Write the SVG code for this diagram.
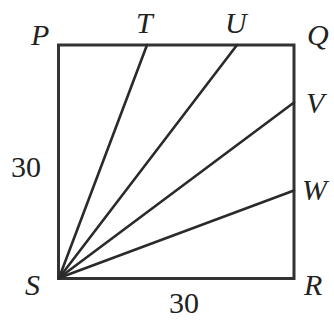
<svg xmlns="http://www.w3.org/2000/svg" width="334" height="320" viewBox="0 0 334 320">
<style>
.edge{stroke:#2a2a2a;stroke-width:2.6;fill:none;stroke-linecap:round}
.sq{stroke:#333;stroke-width:3;fill:none;stroke-linejoin:miter}
.lbl{font-family:"Liberation Serif","Times New Roman",serif;font-style:italic;font-size:30px;fill:#222}
.num{font-family:"Liberation Serif","Times New Roman",serif;font-size:30px;fill:#222}
</style>
<rect width="334" height="320" fill="#fff"/>
<g id="square">
<rect class="sq" x="58.5" y="45" width="235.5" height="233.5"/>
</g>
<g id="connectors">
<line class="edge" x1="59" y1="278" x2="147" y2="45"/>
<line class="edge" x1="59" y1="278" x2="237" y2="45"/>
<line class="edge" x1="59" y1="278" x2="294" y2="102.5"/>
<line class="edge" x1="59" y1="278" x2="294" y2="190.5"/>
</g>
<g id="P"><text class="lbl" x="31" y="45">P</text></g>
<g id="T"><text class="lbl" x="136" y="33">T</text></g>
<g id="U"><text class="lbl" x="225" y="33">U</text></g>
<g id="Q"><text class="lbl" x="307" y="45">Q</text></g>
<g id="V"><text class="lbl" x="306" y="113">V</text></g>
<g id="W"><text class="lbl" x="302" y="200">W</text></g>
<g id="S"><text class="lbl" x="25" y="295">S</text></g>
<g id="R"><text class="lbl" x="304" y="295">R</text></g>
<g id="label-left"><text class="num" x="11" y="177">30</text></g>
<g id="label-bottom"><text class="num" x="169" y="313">30</text></g>
</svg>
